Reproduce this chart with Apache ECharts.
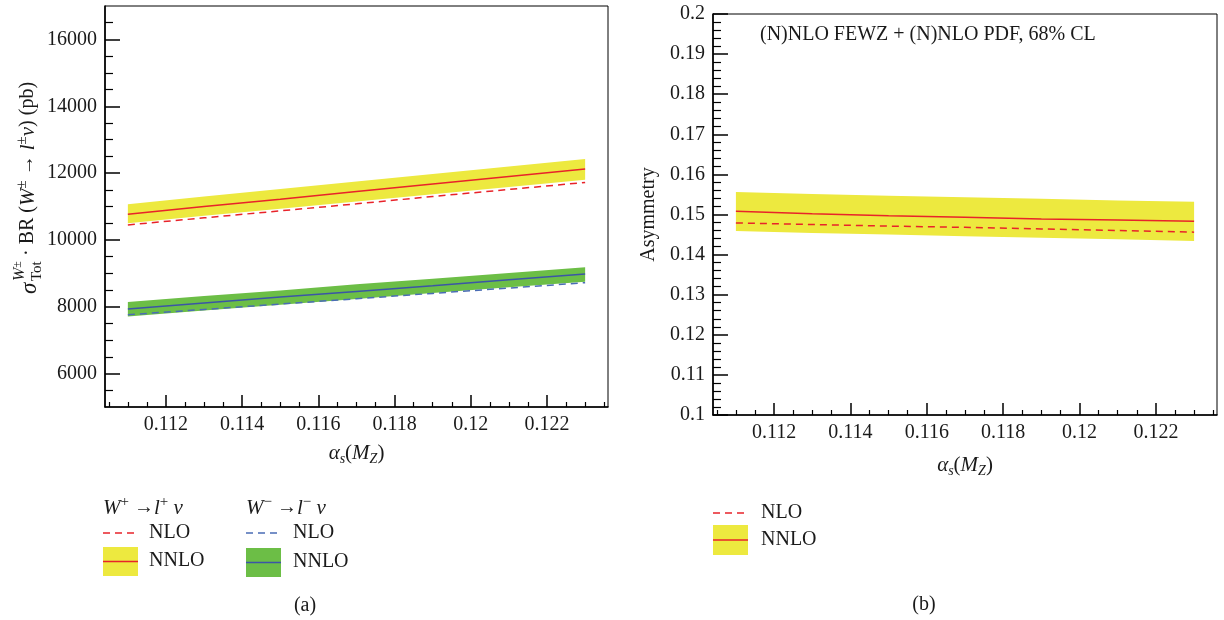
<!DOCTYPE html>
<html><head><meta charset="utf-8">
<script src="https://cdn.jsdelivr.net/npm/echarts@6/dist/echarts.min.js"></script>
<style>html,body{margin:0;padding:0;background:#fff}#c{width:1224px;height:620px}</style>
</head><body><div id="c"></div>
<script>
// ---- data ----
const alphaS = [0.111, 0.113, 0.115, 0.117, 0.119, 0.121, 0.123];

const wpNNLO    = [10770, 11000, 11220, 11450, 11670, 11900, 12120];
const wpNNLOUp  = [11070, 11300, 11520, 11750, 11970, 12200, 12420];
const wpNNLOLow = [10500, 10720, 10930, 11150, 11370, 11580, 11800];
const wpNLO     = [10450, 10660, 10870, 11080, 11300, 11510, 11720];

const wmNNLO    = [7930, 8110, 8290, 8460, 8630, 8810, 8980];
const wmNNLOUp  = [8140, 8320, 8490, 8670, 8840, 9010, 9180];
const wmNNLOLow = [7710, 7890, 8060, 8230, 8410, 8580, 8750];
const wmNLO     = [7760, 7920, 8080, 8240, 8400, 8560, 8720];

const asNNLO    = [0.1508, 0.1502, 0.1497, 0.1493, 0.1489, 0.1486, 0.1483];
const asNNLOUp  = [0.1556, 0.1551, 0.1547, 0.1543, 0.1539, 0.1535, 0.1532];
const asNNLOLow = [0.1459, 0.1454, 0.1450, 0.1446, 0.1442, 0.1438, 0.1434];
const asNLO     = [0.1479, 0.1475, 0.1471, 0.1468, 0.1464, 0.1460, 0.1456];

// ---- ticks ----
const xMajorTicks = [0.112, 0.114, 0.116, 0.118, 0.12, 0.122];
const xMinorTicks = [0.1105, 0.111, 0.1115, 0.1125, 0.113, 0.1135, 0.1145, 0.115, 0.1155,
  0.1165, 0.117, 0.1175, 0.1185, 0.119, 0.1195, 0.1205, 0.121, 0.1215, 0.1225, 0.123, 0.1235];
const yLeftMajorTicks = [6000, 8000, 10000, 12000, 14000, 16000];
const yLeftMinorTicks = [5500, 6500, 7000, 7500, 8500, 9000, 9500, 10500, 11000, 11500,
  12500, 13000, 13500, 14500, 15000, 15500, 16500];
const yRightMajorTicks = [0.1, 0.11, 0.12, 0.13, 0.14, 0.15, 0.16, 0.17, 0.18, 0.19, 0.2];
const yRightMinorTicks = [0.102, 0.104, 0.106, 0.108, 0.112, 0.114, 0.116, 0.118,
  0.122, 0.124, 0.126, 0.128, 0.132, 0.134, 0.136, 0.138, 0.142, 0.144, 0.146, 0.148,
  0.152, 0.154, 0.156, 0.158, 0.162, 0.164, 0.166, 0.168, 0.172, 0.174, 0.176, 0.178,
  0.182, 0.184, 0.186, 0.188, 0.192, 0.194, 0.196, 0.198];

// ---- styles ----
const SERIF = 'Liberation Serif';
const TXT = '#1a1a1a';
const YELLOW = '#ede93f';
const GREEN = '#6cbe46';
const RED = '#e8232a';
const BLUE = '#3b55a6';
const BLUE_D = '#4a6cb5';
const DASH = [7, 5];

const xName = '{a|α}{s|s}{p|(}{a|M}{s|Z}{p|)}';
const xNameStyle = {
  fontFamily: SERIF, fontSize: 20, color: TXT,
  rich: {
    a: {fontFamily: SERIF, fontStyle: 'italic', fontSize: 21, lineHeight: 26, color: TXT},
    p: {fontFamily: SERIF, fontSize: 21, lineHeight: 26, color: TXT},
    s: {fontFamily: SERIF, fontStyle: 'italic', fontSize: 14, lineHeight: 14, verticalAlign: 'bottom', color: TXT}
  }
};

function majorX(gi, nameGap) {
  return {
    type: 'value', gridIndex: gi, position: 'bottom', min: 0.1104, max: 0.1236,
    axisLine: {show: true, onZero: false, lineStyle: {color: '#000', width: 1.6}},
    axisTick: {show: true, inside: true, length: 12, customValues: xMajorTicks, lineStyle: {color: '#000', width: 1.5}},
    axisLabel: {show: true, customValues: xMajorTicks, margin: 8, fontFamily: SERIF, fontSize: 20, color: TXT},
    splitLine: {show: false},
    name: xName, nameLocation: 'middle', nameGap: nameGap, nameTextStyle: xNameStyle
  };
}
function minorX(gi) {
  return {
    type: 'value', gridIndex: gi, position: 'bottom', min: 0.1104, max: 0.1236,
    axisLine: {show: false},
    axisTick: {show: true, inside: true, length: 5, customValues: xMinorTicks, lineStyle: {color: '#000', width: 1.2}},
    axisLabel: {show: false}, splitLine: {show: false}
  };
}
function majorY(gi, min, max, ticks, extra) {
  return Object.assign({
    type: 'value', gridIndex: gi, position: 'left', min: min, max: max,
    axisLine: {show: true, onZero: false, lineStyle: {color: '#000', width: 1.6}},
    axisTick: {show: true, inside: true, length: 15, customValues: ticks, lineStyle: {color: '#000', width: 1.5}},
    axisLabel: {show: true, customValues: ticks, margin: 8, fontFamily: SERIF, fontSize: 20, color: TXT,
      formatter: v => String(v)},
    splitLine: {show: false}
  }, extra || {});
}
function minorY(gi, min, max, ticks) {
  return {
    type: 'value', gridIndex: gi, position: 'left', min: min, max: max,
    axisLine: {show: false},
    axisTick: {show: true, inside: true, length: 8, customValues: ticks, lineStyle: {color: '#000', width: 1.2}},
    axisLabel: {show: false}, splitLine: {show: false}
  };
}

function band(xi, yi, low, up, color) {
  return {
    type: 'custom', xAxisIndex: xi, yAxisIndex: yi, silent: true, z: 1,
    data: alphaS.map((x, i) => [x, low[i], up[i]]),
    encode: {x: 0, y: [1, 2]},
    renderItem: function (params, api) {
      if (params.dataIndex !== 0) return null;
      const pts = [];
      for (let i = 0; i < alphaS.length; i++) pts.push(api.coord([alphaS[i], up[i]]));
      for (let i = alphaS.length - 1; i >= 0; i--) pts.push(api.coord([alphaS[i], low[i]]));
      return {type: 'polygon', shape: {points: pts}, style: {fill: color}};
    }
  };
}
function line(xi, yi, vals, color, dashed) {
  return {
    type: 'line', xAxisIndex: xi, yAxisIndex: yi, z: 3, silent: true,
    data: alphaS.map((x, i) => [x, vals[i]]), symbol: 'none',
    lineStyle: {color: color, width: 1.5, type: dashed ? DASH : 'solid'}
  };
}

function txt(x, y, text, size, align, extra) {
  return {type: 'text', x: x, y: y, style: Object.assign({
    text: text, fontFamily: SERIF, fontSize: size, fill: TXT,
    align: align || 'left', verticalAlign: 'middle', textAlign: align || 'left', textVerticalAlign: 'middle'
  }, extra || {})};
}
function dashLine(x1, x2, y, color) {
  return {type: 'line', shape: {x1: x1, y1: y, x2: x2, y2: y}, style: {stroke: color, lineWidth: 1.5, lineDash: DASH}};
}
function boxLine(x, y, w, h, fill, stroke) {
  return [
    {type: 'rect', shape: {x: x, y: y, width: w, height: h}, style: {fill: fill}},
    {type: 'line', shape: {x1: x, y1: y + h / 2, x2: x + w, y2: y + h / 2}, style: {stroke: stroke, lineWidth: 1.5}}
  ];
}
const headRich = {
  i: {fontFamily: SERIF, fontStyle: 'italic', fontSize: 21, lineHeight: 26, fill: TXT, color: TXT},
  n: {fontFamily: SERIF, fontSize: 20, lineHeight: 26, fill: TXT, color: TXT},
  sp: {fontFamily: SERIF, fontSize: 15, lineHeight: 15, verticalAlign: 'top', fill: TXT, color: TXT}
};

const chart = echarts.init(document.getElementById('c'), null, {renderer: 'canvas'});
chart.setOption({
  animation: false,
  backgroundColor: '#ffffff',
  grid: [
    {left: 105, top: 6, right: 616, bottom: 213, show: true, borderColor: '#000', borderWidth: 1, containLabel: false},
    {left: 713, top: 14, right: 7, bottom: 205, show: true, borderColor: '#000', borderWidth: 1, containLabel: false}
  ],
  xAxis: [majorX(0, 33), minorX(0), majorX(1, 37), minorX(1)],
  yAxis: [
    majorY(0, 5000, 17000, yLeftMajorTicks),
    minorY(0, 5000, 17000, yLeftMinorTicks),
    majorY(1, 0.1, 0.2, yRightMajorTicks, {
      name: 'Asymmetry', nameLocation: 'middle', nameRotate: 90, nameGap: 54,
      nameTextStyle: {fontFamily: SERIF, fontSize: 20, color: TXT}
    }),
    minorY(1, 0.1, 0.2, yRightMinorTicks)
  ],
  series: [
    band(0, 0, wpNNLOLow, wpNNLOUp, YELLOW),
    band(0, 0, wmNNLOLow, wmNNLOUp, GREEN),
    line(0, 0, wpNLO, RED, true),
    line(0, 0, wpNNLO, RED, false),
    line(0, 0, wmNLO, BLUE_D, true),
    line(0, 0, wmNNLO, BLUE, false),
    band(2, 2, asNNLOLow, asNNLOUp, YELLOW),
    line(2, 2, asNLO, RED, true),
    line(2, 2, asNNLO, RED, false)
  ],
  graphic: [
    // left y-axis title (rotated)
    {type: 'group', x: 28, y: 294, rotation: Math.PI / 2, children: [
      {type: 'text', x: 0, y: 2, style: {text: 'σ', fontFamily: SERIF, fontStyle: 'italic', fontSize: 23, fill: TXT,
        align: 'left', verticalAlign: 'middle', textAlign: 'left', textVerticalAlign: 'middle'}},
      {type: 'text', x: 13, y: -8, style: {text: '{i|W}{s|±}', fill: TXT, align: 'left', verticalAlign: 'middle',
        textAlign: 'left', textVerticalAlign: 'middle',
        rich: {i: {fontFamily: SERIF, fontStyle: 'italic', fontSize: 16, lineHeight: 16, fill: TXT},
               s: {fontFamily: SERIF, fontSize: 12, lineHeight: 12, fill: TXT, verticalAlign: 'top'}}}},
      {type: 'text', x: 13, y: 9, style: {text: 'Tot', fontFamily: SERIF, fontSize: 15, fill: TXT,
        align: 'left', verticalAlign: 'middle', textAlign: 'left', textVerticalAlign: 'middle'}},
      {type: 'text', x: 38, y: 0, style: {text: '{n|· BR (}{i|W}{sp|±}{n| → }{i|l}{sp|±}{i|ν}{n|) (pb)}',
        fill: TXT, align: 'left', verticalAlign: 'middle', textAlign: 'left', textVerticalAlign: 'middle', rich: headRich}}
    ]},
    // right plot annotation
    txt(760, 35, '(N)NLO FEWZ + (N)NLO PDF, 68% CL', 20),
    // left legend
    {type: 'text', x: 103, y: 508, style: {text: '{i|W}{sp|+}{n| →}{i|l}{sp|+}{i| ν}', fill: TXT,
      align: 'left', verticalAlign: 'middle', textAlign: 'left', textVerticalAlign: 'middle', rich: headRich}},
    dashLine(103, 138, 533, RED),
    txt(149, 533, 'NLO', 20),
    ...boxLine(103, 547, 35, 29, YELLOW, RED),
    txt(149, 561, 'NNLO', 20),
    {type: 'text', x: 246, y: 508, style: {text: '{i|W}{sp|−}{n| →}{i|l}{sp|−}{i| ν}', fill: TXT,
      align: 'left', verticalAlign: 'middle', textAlign: 'left', textVerticalAlign: 'middle', rich: headRich}},
    dashLine(246, 281, 533, BLUE_D),
    txt(293, 533, 'NLO', 20),
    ...boxLine(246, 548, 35, 29, GREEN, BLUE),
    txt(293, 562, 'NNLO', 20),
    txt(305, 606, '(a)', 20, 'center'),
    // right legend
    dashLine(713, 748, 513, RED),
    txt(761, 513, 'NLO', 20),
    ...boxLine(713, 525, 35, 30, YELLOW, RED),
    txt(761, 540, 'NNLO', 20),
    txt(924, 605, '(b)', 20, 'center')
  ]
});
</script>
</body></html>
